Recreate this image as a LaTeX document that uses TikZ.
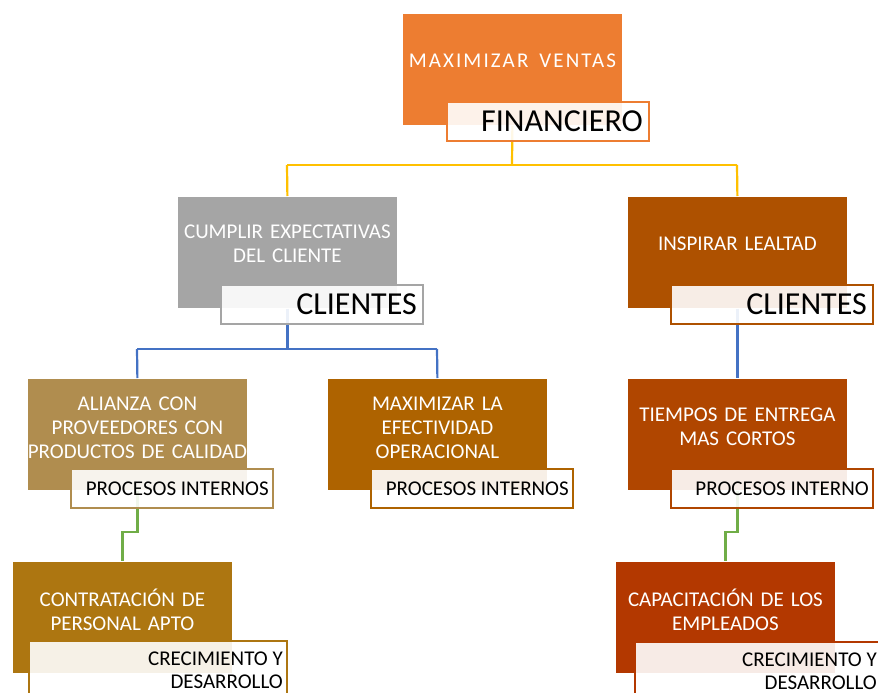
\documentclass[tikz,border=0pt]{standalone}
\usepackage{fontspec}
\setmainfont{Carlito}

\definecolor{cFin}{HTML}{ED7D31}
\definecolor{cGray}{HTML}{A5A5A5}
\definecolor{cLeal}{HTML}{AE5100}
\definecolor{cAli}{HTML}{B08D4F}
\definecolor{cEfe}{HTML}{AE6300}
\definecolor{cTie}{HTML}{B04600}
\definecolor{cCon}{HTML}{AD7611}
\definecolor{cCap}{HTML}{B33800}
\definecolor{lnYellow}{HTML}{FFC000}
\definecolor{lnBlue}{HTML}{4472C4}
\definecolor{lnGreen}{HTML}{70AD47}

\tikzset{
  box/.style={rectangle, fill=#1, draw=white, line width=0.8pt, inner sep=0pt,
    minimum width=220pt, minimum height=112pt, anchor=north west},
  tag/.style={rectangle, draw=#1, line width=2pt, fill=white, fill opacity=0.9,
    inner sep=0pt, minimum width=202pt, minimum height=39pt, anchor=north west},
  widetag/.style={tag=#1, minimum height=72pt},
  boxtext/.style={text=white, font=\fontsize{21}{24}\selectfont, align=center,
    text width=220pt, inner sep=0pt},
  bigtag/.style={text=black, font=\fontsize{32}{35}\selectfont, anchor=east, inner sep=0pt},
  smalltag/.style={text=black, font=\fontsize{21}{23}\selectfont, anchor=east,
    align=right, inner sep=0pt},
  link/.style={draw=#1, line width=2.2pt},
}

\begin{document}
\begin{tikzpicture}[x=1pt, y=-1pt]
\useasboundingbox (0,0) rectangle (878,693);
\clip (0,0) rectangle (878,693);

% boxes
\node[box=cFin]  (b1) at (402,13)  {};
\node[box=cGray] (b2) at (177,196) {};
\node[box=cLeal] (b3) at (627,196) {};
\node[box=cAli]  (b4) at (27,378)  {};
\node[box=cEfe]  (b5) at (327,378) {};
\node[box=cTie]  (b6) at (627,378) {};
\node[box=cCon]  (b7) at (12,561)  {};
\node[box=cCap]  (b8) at (615,561) {};

% connectors, drawn before the title tags so the tags veil them
\coordinate (y1) at (512,165);
\coordinate (yb1) at (287,165);
\coordinate (yb2) at (737,165);
\draw[link=lnYellow] (b1.south) -- (y1);
\draw[link=lnYellow] (yb1) -- (yb2);
\draw[link=lnYellow] (yb1) -- (b2.north);
\draw[link=lnYellow] (yb2) -- (b3.north);

\coordinate (bl1) at (137,349);
\coordinate (bl2) at (437,349);
\draw[link=lnBlue] (b2.south) -- (b2.south |- bl1);
\draw[link=lnBlue] (bl1) -- (bl2);
\draw[link=lnBlue] (bl1) -- (b4.north);
\draw[link=lnBlue] (bl2) -- (b5.north);
\draw[link=lnBlue] (b3.south) -- (b6.north);

\draw[link=lnGreen] (b4.south) -- ++(0,41) -| (b7.north);
\draw[link=lnGreen] (b6.south) -- ++(0,41) -| (b8.north);

% box texts
\node[boxtext] (t1) at ([yshift=-48pt]b1.north)
  {\addfontfeature{LetterSpace=10}MAXIMIZAR\hspace{4pt} VENTAS};
\node[boxtext] (t2) at ([yshift=-48pt]b2.north) {CUMPLIR EXPECTATIVAS\\DEL CLIENTE};
\node[boxtext] (t3) at ([yshift=-48pt]b3.north) {INSPIRAR LEALTAD};
\node[boxtext] (t4) at ([yshift=-50pt]b4.north) {ALIANZA CON\\PROVEEDORES CON\\PRODUCTOS DE CALIDAD};
\node[boxtext] (t5) at ([yshift=-50pt]b5.north) {MAXIMIZAR LA\\EFECTIVIDAD\\OPERACIONAL};
\node[boxtext] (t6) at ([yshift=-49pt]b6.north) {TIEMPOS DE ENTREGA\\MAS CORTOS};
\node[boxtext] (t7) at ([yshift=-49pt]b7.north) {CONTRATACIÓN DE\\PERSONAL APTO};
\node[boxtext] (t8) at ([yshift=-49pt]b8.north) {CAPACITACIÓN DE LOS\\EMPLEADOS};

% title tags
\node[tag=cFin]  (l1) at (446,101) {};
\node[tag=cGray] (l2) at (220,284) {};
\node[tag=cLeal] (l3) at (670,284) {};
\node[tag=cAli]  (l4) at (70,468)  {};
\node[tag=cEfe]  (l5) at (370,468) {};
\node[tag=cTie]  (l6) at (670,468) {};
\node[widetag=cCon, minimum width=258pt] (l7) at (28,640)  {};
\node[widetag=cCap, minimum width=246pt] (l8) at (634,641) {};

\node[bigtag] (lt1) at ([xshift=-7pt]l1.east) {FINANCIERO};
\node[bigtag] (lt2) at ([xshift=-7pt]l2.east) {CLIENTES};
\node[bigtag] (lt3) at ([xshift=-7pt]l3.east) {CLIENTES};
\node[smalltag] (lt4) at ([xshift=-5pt]l4.east) {PROCESOS INTERNOS};
\node[smalltag] (lt5) at ([xshift=-5pt]l5.east) {PROCESOS INTERNOS};
\node[smalltag] (lt6) at ([xshift=-5pt]l6.east) {PROCESOS INTERNO};
\node[smalltag] (lt7) at ([xshift=-5pt,yshift=-30pt]l7.north east) {CRECIMIENTO Y\\DESARROLLO};
\node[smalltag] (lt8) at ([xshift=-5pt,yshift=-30pt]l8.north east) {CRECIMIENTO Y\\DESARROLLO};
\end{tikzpicture}
\end{document}
